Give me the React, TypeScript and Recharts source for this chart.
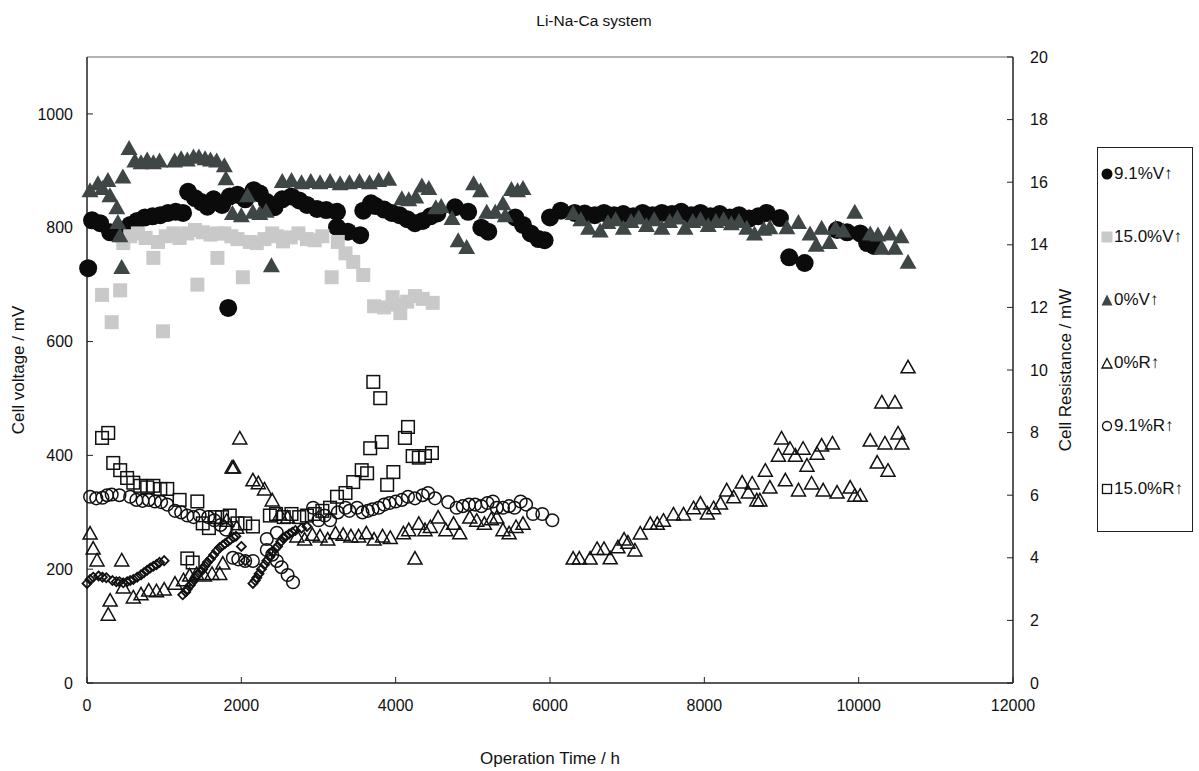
import React from 'react';
import { ScatterChart, Scatter, XAxis, YAxis, ReferenceLine, Label } from 'recharts';

const FONT = '"Liberation Sans", Arial, Helvetica, sans-serif';

// axis ticks
const xTicks = [0, 2000, 4000, 6000, 8000, 10000, 12000];
const voltTicks = [0, 200, 400, 600, 800, 1000];
const resTicks = [0, 2, 4, 6, 8, 10, 12, 14, 16, 18, 20];

// 9.1%V  [h, mV]
const v91: [number, number][] = [
  [15, 729], [65, 813], [170, 808], [300, 792], [390, 790], [560, 805], [650, 812], [750, 818],
  [850, 820], [950, 822], [1050, 826], [1150, 828], [1245, 826], [1310, 863], [1400, 852],
  [1480, 845], [1560, 837], [1640, 850], [1750, 840], [1830, 659], [1850, 855], [1950, 858],
  [2050, 850], [2160, 866], [2240, 860], [2330, 845], [2430, 836], [2530, 850], [2650, 855],
  [2750, 848], [2850, 840], [2980, 833], [3100, 831], [3240, 828], [3240, 801], [3380, 793],
  [3540, 787], [3580, 830], [3680, 843], [3740, 838], [3850, 832], [3950, 826], [4050, 822],
  [4150, 815], [4250, 808], [4350, 812], [4450, 820], [4540, 825], [4770, 836], [4940, 828],
  [5110, 800], [5200, 793], [5550, 818], [5650, 805], [5750, 790], [5850, 780], [5930, 778],
  [6000, 818], [6140, 830], [6320, 826], [6450, 825], [6580, 822], [6700, 826], [6830, 822],
  [6950, 824], [7080, 820], [7200, 826], [7330, 822], [7450, 826], [7580, 824], [7700, 828],
  [7830, 822], [7950, 826], [8080, 820], [8200, 824], [8330, 818], [8450, 822], [8580, 816],
  [8700, 820], [8810, 826], [8980, 817], [9100, 748], [9300, 738], [9720, 796], [9850, 792],
  [10020, 790], [10110, 773], [10200, 768],
];

// 15.0%V  [h, mV]
const v150: [number, number][] = [
  [195, 682], [320, 634], [430, 690], [470, 773], [560, 785], [660, 790], [760, 782], [860, 747],
  [920, 775], [985, 618], [1020, 785], [1120, 790], [1200, 782], [1300, 790], [1400, 796],
  [1430, 700], [1500, 792], [1600, 788], [1690, 747], [1690, 790], [1780, 790], [1870, 785],
  [1950, 780], [2020, 713], [2110, 775], [2200, 773], [2300, 780], [2400, 790], [2460, 785],
  [2540, 776], [2640, 783], [2740, 790], [2850, 780], [2950, 778], [3050, 785], [3170, 713],
  [3250, 775], [3350, 755], [3450, 740], [3580, 717], [3720, 662], [3850, 660], [3960, 678],
  [4000, 665], [4060, 650], [4150, 670], [4250, 680], [4350, 675], [4480, 668],
];

// 0%V  [h, mV]
const v0: [number, number][] = [
  [39, 866], [142, 878], [200, 870], [271, 884], [297, 857], [387, 836], [400, 810], [426, 787],
  [450, 731], [465, 890], [545, 940], [620, 918], [700, 915], [780, 920], [860, 915], [940, 918],
  [1135, 918], [1220, 922], [1300, 920], [1380, 925], [1450, 925], [1530, 922], [1600, 920],
  [1680, 918], [1780, 910], [1800, 887], [1885, 826], [2000, 822], [2080, 857], [2150, 828],
  [2240, 826], [2320, 830], [2390, 734], [2530, 882], [2650, 884], [2780, 880], [2900, 882],
  [3020, 880], [3150, 882], [3280, 878], [3400, 880], [3530, 882], [3660, 880], [3780, 884],
  [3910, 886], [4080, 852], [4170, 850], [4260, 855], [4340, 874], [4430, 870], [4520, 836],
  [4590, 838], [4730, 817], [4810, 778], [4920, 766], [5010, 878], [5100, 866], [5180, 828],
  [5290, 828], [5390, 843], [5420, 822], [5500, 868], [5580, 866], [5650, 870], [6300, 826],
  [6400, 815], [6500, 800], [6650, 795], [6750, 810], [6850, 815], [6950, 800], [7050, 812],
  [7150, 818], [7250, 805], [7350, 815], [7450, 800], [7550, 812], [7650, 818], [7750, 800],
  [7850, 812], [7950, 815], [8050, 805], [8150, 812], [8250, 815], [8350, 808], [8450, 812],
  [8550, 800], [8650, 790], [8770, 798], [8850, 801], [9070, 801], [9220, 810], [9370, 790],
  [9450, 770], [9520, 800], [9620, 775], [9700, 800], [9800, 795], [9950, 828], [10150, 790],
  [10250, 788], [10300, 765], [10400, 790], [10470, 765], [10550, 785], [10640, 740],
];

// 0%R  [h, mOhm]
const r0: [number, number][] = [
  [40, 4.79], [80, 4.31], [130, 3.93], [275, 2.2], [300, 2.65], [450, 3.93], [470, 3.07],
  [600, 2.75], [700, 2.85], [800, 2.97], [900, 2.95], [1000, 3.0], [1140, 3.19], [1250, 3.3],
  [1330, 3.45], [1420, 3.5], [1520, 3.45], [1620, 3.5], [1720, 3.5], [1760, 3.83], [1810, 5.2],
  [1880, 6.9], [1900, 6.9], [1940, 4.98], [1980, 7.83], [2150, 6.49], [2220, 6.4], [2300, 6.2],
  [2400, 5.85], [2500, 5.4], [2600, 5.3], [2720, 4.7], [2820, 4.6], [2920, 4.75], [3020, 4.7],
  [3120, 4.6], [3220, 4.8], [3320, 4.75], [3420, 4.7], [3520, 4.7], [3620, 4.8], [3720, 4.6],
  [3830, 4.7], [3930, 4.65], [4100, 4.8], [4170, 4.9], [4250, 3.99], [4300, 5.1], [4380, 4.9],
  [4450, 5.0], [4550, 5.3], [4650, 4.9], [4750, 5.1], [4830, 4.8], [4960, 5.3], [5050, 5.2],
  [5150, 5.1], [5240, 5.25], [5310, 5.3], [5390, 4.9], [5470, 4.8], [5560, 5.0], [5650, 5.1],
  [6300, 3.99], [6380, 3.99], [6520, 3.99], [6610, 4.3], [6700, 4.3], [6780, 4.0], [6880, 4.35],
  [6960, 4.6], [7010, 4.5], [7100, 4.25], [7170, 4.79], [7300, 5.1], [7390, 5.1], [7470, 5.2],
  [7600, 5.4], [7730, 5.4], [7860, 5.6], [7950, 5.75], [8040, 5.43], [8120, 5.6], [8210, 5.75],
  [8290, 6.17], [8380, 5.95], [8490, 6.42], [8570, 6.1], [8620, 6.39], [8680, 5.85], [8720, 5.85],
  [8790, 6.8], [8850, 6.26], [8960, 7.28], [9000, 7.83], [9050, 6.49], [9110, 7.5], [9180, 7.28],
  [9220, 6.17], [9280, 7.5], [9330, 6.96], [9390, 6.39], [9460, 7.34], [9520, 7.6], [9540, 6.17],
  [9660, 7.67], [9720, 6.1], [9890, 6.26], [9950, 6.0], [10020, 6.0], [10150, 7.76], [10240, 7.06],
  [10300, 8.98], [10340, 7.67], [10380, 6.8], [10470, 8.98], [10510, 7.99], [10560, 7.67],
  [10640, 10.1],
];

// 9.1%R  [h, mOhm]
const r91: [number, number][] = [
  [40, 5.95], [120, 5.9], [200, 5.92], [260, 6.0], [320, 6.02], [420, 6.0], [560, 5.95], [640, 5.85],
  [720, 5.82], [800, 5.85], [880, 5.8], [960, 5.78], [1040, 5.7], [1140, 5.5], [1220, 5.45],
  [1300, 5.35], [1380, 5.3], [1460, 5.35], [1570, 5.3], [1650, 5.2], [1730, 5.05], [1800, 4.9],
  [1890, 4.0], [1960, 3.95], [2050, 3.9], [2150, 3.9], [2330, 4.25], [2400, 4.1], [2460, 3.9],
  [2520, 3.7], [2600, 3.45], [2670, 3.22], [2330, 4.6], [2460, 4.8], [2930, 5.6], [3000, 5.2],
  [3080, 5.35], [3150, 5.2], [3250, 5.45], [3350, 5.6], [3400, 5.5], [3500, 5.6], [3570, 5.45],
  [3640, 5.5], [3700, 5.55], [3780, 5.6], [3850, 5.7], [3920, 5.75], [4000, 5.8], [4080, 5.85],
  [4160, 5.95], [4250, 5.9], [4350, 6.0], [4420, 6.07], [4510, 5.9], [4680, 5.78], [4790, 5.6],
  [4870, 5.65], [4950, 5.7], [5030, 5.7], [5110, 5.65], [5190, 5.75], [5260, 5.8], [5310, 5.6],
  [5390, 5.6], [5470, 5.65], [5540, 5.6], [5620, 5.8], [5690, 5.7], [5780, 5.4], [5900, 5.4],
  [6030, 5.2],
];

// 15.0%R  [h, mOhm]
const r150: [number, number][] = [
  [195, 7.83], [275, 7.99], [340, 7.03], [430, 6.8], [520, 6.55], [600, 6.4], [690, 6.3],
  [780, 6.25], [860, 6.3], [950, 6.2], [1040, 6.2], [1200, 5.85], [1300, 3.98], [1370, 3.85],
  [1430, 5.8], [1500, 5.1], [1580, 4.95], [1660, 5.3], [1750, 5.3], [1850, 5.35], [1950, 5.1],
  [2050, 5.1], [2150, 5.0], [2370, 5.35], [2450, 5.4], [2550, 5.3], [2650, 5.4], [2750, 5.3],
  [2850, 5.35], [2950, 5.4], [3050, 5.5], [3150, 5.6], [3240, 5.95], [3350, 6.07], [3450, 6.42],
  [3560, 6.8], [3630, 6.7], [3670, 7.5], [3710, 9.62], [3800, 9.1], [3820, 7.7], [3890, 6.33],
  [3970, 6.74], [4120, 7.83], [4160, 8.18], [4220, 7.25], [4300, 7.2], [4380, 7.25], [4470, 7.35],
];

// unlabelled small diamonds  [h, mV]
const extra: [number, number][] = [
  [0, 175], [40, 182], [80, 186], [150, 188], [200, 186], [250, 185], [330, 180], [380, 178],
  [420, 178], [470, 176], [520, 178], [560, 180], [600, 182], [650, 186], [700, 190], [740, 194],
  [780, 198], [820, 202], [860, 205], [900, 208], [940, 212], [1000, 215], [1240, 155],
  [1280, 160], [1300, 165], [1340, 172], [1370, 178], [1400, 184], [1430, 190], [1470, 195],
  [1500, 200], [1530, 206], [1560, 212], [1600, 218], [1640, 225], [1680, 232], [1720, 238],
  [1760, 242], [1790, 245], [1830, 249], [1860, 252], [1900, 256], [1930, 258], [2000, 240],
  [2050, 215], [2150, 175], [2180, 180], [2200, 185], [2230, 192], [2260, 200], [2300, 208],
  [2330, 215], [2370, 222], [2400, 230], [2440, 236], [2470, 240], [2510, 248], [2540, 255],
  [2580, 258], [2620, 262], [2660, 265], [2700, 268], [2780, 272], [2850, 275],
];

const legendItems = ['9.1%V↑', '15.0%V↑', '0%V↑', '0%R↑', '9.1%R↑', '15.0%R↑'];

const toPoints = (rows: [number, number][]) => rows.map(([x, y]) => ({ x, y }));

// marker shapes
const filledCircle = (p: any) => <circle cx={p.cx} cy={p.cy} r={9} fill="#0b0b0b" />;
const graySquare = (p: any) => <rect x={p.cx - 7} y={p.cy - 7} width={14} height={14} fill="#c9c9c9" />;
const filledTriangle = (p: any) => (
  <polygon
    points={`${p.cx},${p.cy - 8} ${p.cx + 8.5},${p.cy + 7} ${p.cx - 8.5},${p.cy + 7}`}
    fill="#3e4646"
  />
);
const hollowTriangle = (p: any) => (
  <polygon
    points={`${p.cx},${p.cy - 6.5} ${p.cx + 7},${p.cy + 6} ${p.cx - 7},${p.cy + 6}`}
    fill="none"
    stroke="#111"
    strokeWidth={1.5}
  />
);
const hollowCircle = (p: any) => (
  <circle cx={p.cx} cy={p.cy} r={6.3} fill="none" stroke="#111" strokeWidth={1.5} />
);
const hollowSquare = (p: any) => (
  <rect x={p.cx - 6.3} y={p.cy - 6.3} width={12.6} height={12.6} fill="none" stroke="#111" strokeWidth={1.5} />
);
const diamond = (p: any) => (
  <polygon
    points={`${p.cx},${p.cy - 4.5} ${p.cx + 4.5},${p.cy} ${p.cx},${p.cy + 4.5} ${p.cx - 4.5},${p.cy}`}
    fill="none"
    stroke="#111"
    strokeWidth={1.8}
  />
);

const LegendIcon = ({ i }: { i: number }) => {
  switch (i) {
    case 0:
      return <circle cx={6} cy={6} r={5.5} fill="#0b0b0b" />;
    case 1:
      return <rect x={0.5} y={0.5} width={11} height={11} fill="#c9c9c9" />;
    case 2:
      return <polygon points="6,0.5 11.5,11.5 0.5,11.5" fill="#3e4646" />;
    case 3:
      return <polygon points="6,1.5 11,11 1,11" fill="none" stroke="#111" strokeWidth={1.3} />;
    case 4:
      return <circle cx={6} cy={6} r={4.5} fill="none" stroke="#111" strokeWidth={1.3} />;
    default:
      return <rect x={1.5} y={1.5} width={9} height={9} fill="none" stroke="#111" strokeWidth={1.3} />;
  }
};

const tickStyle = { fontSize: 16, fill: '#111', fontFamily: FONT };
const titleStyle = { fontSize: 17, fill: '#111', fontFamily: FONT, textAnchor: 'middle' as const };

export default function App() {
  return (
    <div style={{ position: 'absolute', left: 0, top: 0, width: 1199, height: 771, background: '#fff', fontFamily: FONT }}>
      <div style={{ position: 'absolute', left: 0, top: 12, width: 1188, textAlign: 'center', fontSize: 15.5, color: '#111' }}>
        Li-Na-Ca system
      </div>
      <ScatterChart width={1199} height={771} margin={{ top: 57, right: 106, bottom: 0, left: 0 }}>
        <XAxis
          dataKey="x"
          type="number"
          domain={[0, 12000]}
          ticks={xTicks}
          interval={0}
          height={88}
          tick={tickStyle}
          tickSize={-6}
          tickMargin={23}
          axisLine={{ stroke: '#222', strokeWidth: 1.5 }}
          tickLine={{ stroke: '#222' }}
        >
          <Label value="Operation Time / h" position="insideBottom" offset={7} style={titleStyle} />
        </XAxis>
        <YAxis
          yAxisId="left"
          dataKey="y"
          type="number"
          domain={[0, 1100]}
          ticks={voltTicks}
          interval={0}
          width={87}
          tick={tickStyle}
          tickSize={-6}
          tickMargin={20}
          axisLine={{ stroke: '#222', strokeWidth: 1.5 }}
          tickLine={{ stroke: '#222' }}
        >
          <Label value="Cell voltage / mV" position="insideLeft" offset={18} angle={-90} style={titleStyle} />
        </YAxis>
        <YAxis
          yAxisId="right"
          orientation="right"
          dataKey="y"
          type="number"
          domain={[0, 20]}
          ticks={resTicks}
          interval={0}
          width={80}
          tick={tickStyle}
          tickSize={-6}
          tickMargin={23}
          axisLine={{ stroke: '#222', strokeWidth: 1.5 }}
          tickLine={{ stroke: '#222' }}
        >
          <Label value="Cell Resistance / mW" position="insideLeft" offset={52} angle={-90} style={titleStyle} />
        </YAxis>
        <ReferenceLine yAxisId="left" y={1100} stroke="#999" strokeWidth={1.5} />
        <Scatter name="diamonds" yAxisId="left" data={toPoints(extra)} shape={diamond} isAnimationActive={false} legendType="none" />
        <Scatter name={legendItems[0]} yAxisId="left" data={toPoints(v91)} shape={filledCircle} isAnimationActive={false} />
        <Scatter name={legendItems[1]} yAxisId="left" data={toPoints(v150)} shape={graySquare} isAnimationActive={false} />
        <Scatter name={legendItems[2]} yAxisId="left" data={toPoints(v0)} shape={filledTriangle} isAnimationActive={false} />
        <Scatter name={legendItems[3]} yAxisId="right" data={toPoints(r0)} shape={hollowTriangle} isAnimationActive={false} />
        <Scatter name={legendItems[4]} yAxisId="right" data={toPoints(r91)} shape={hollowCircle} isAnimationActive={false} />
        <Scatter name={legendItems[5]} yAxisId="right" data={toPoints(r150)} shape={hollowSquare} isAnimationActive={false} />
      </ScatterChart>
      <div
        style={{
          position: 'absolute',
          left: 1097,
          top: 147,
          width: 96,
          height: 385,
          border: '1px solid #222',
          boxSizing: 'border-box',
          fontSize: 17,
          color: '#111',
        }}
      >
        {legendItems.map((name, i) => (
          <div
            key={name}
            style={{ position: 'absolute', left: 3, top: 16 + i * 63, height: 20, display: 'flex', alignItems: 'center', whiteSpace: 'nowrap' }}
          >
            <svg width={12} height={12} style={{ marginRight: 1 }}>
              <LegendIcon i={i} />
            </svg>
            <span>{name}</span>
          </div>
        ))}
      </div>
    </div>
  );
}
